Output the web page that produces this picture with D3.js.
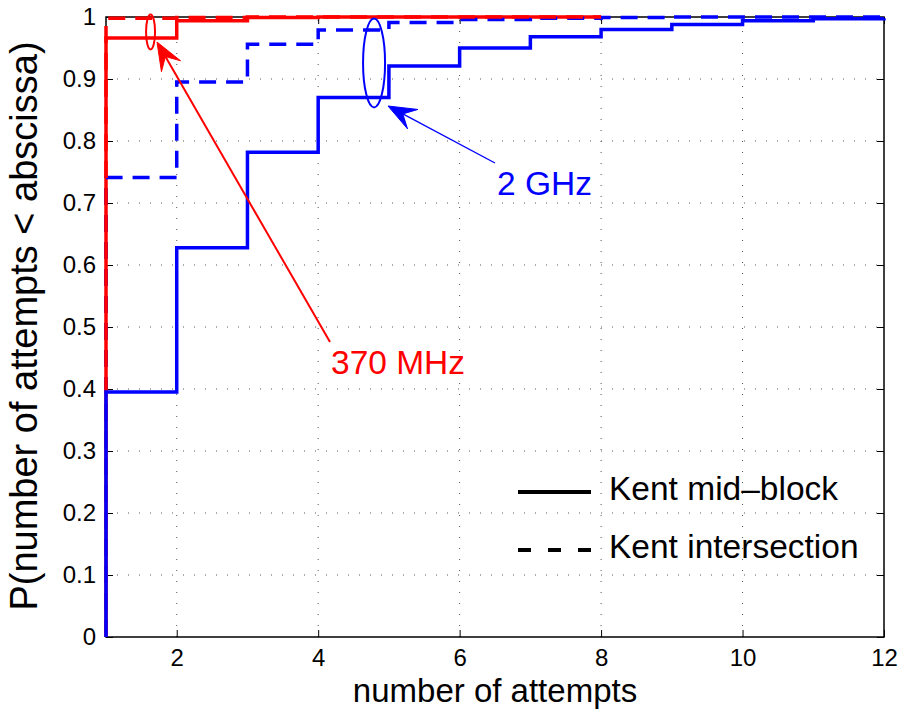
<!DOCTYPE html>
<html><head><meta charset="utf-8">
<script src="https://cdn.jsdelivr.net/npm/d3@7"></script>
<style>
html,body{margin:0;padding:0;background:#fff;}
text{font-family:"Liberation Sans",Arial,Helvetica,sans-serif;}
</style></head>
<body>
<svg id="chart" width="900" height="717"></svg>
<script>
// ---- data ----
const attempts      = [1,2,3,4,5,6,7,8,9,10,11,12];
const blueMidBlock  = [0.395,0.628,0.782,0.870,0.921,0.950,0.968,0.980,0.988,0.994,0.997,0.998];
const blueIntersect = [0.741,0.895,0.956,0.979,0.991,0.996,0.998,0.999,1.0,1.0,1.0,1.0];
const redAttempts   = [1,2,3,4,5,6,7,8];
const redMidBlock   = [0.966,0.994,0.999,1.0,1.0,1.0,1.0,1.0];
const redIntersect  = [0.998,0.999,1.0,1.0,1.0,1.0,1.0,1.0];
const xTicks = [2,4,6,8,10,12];
const yTicks = [0,0.1,0.2,0.3,0.4,0.5,0.6,0.7,0.8,0.9,1];
const legendLabels = ["Kent mid\u2013block","Kent intersection"];
const annotations = [
  {label:"370 MHz", color:"#ff0000", ellipse:{x:1.63,y:0.976,rx:4.5,ry:17.5}, tip:[157,42], tail:[330,342], text:[331,374], lw:2},
  {label:"2 GHz",  color:"#0000ff", ellipse:{x:4.79,y:0.926,rx:11,ry:44.5}, tip:[388,106], tail:[495,163], text:[497,195], lw:1.4}
];

const svg = d3.select("#chart");
const L=106, R=884, T=17, B=637;
const x = d3.scaleLinear().domain([1,12]).range([L,R]);
const y = d3.scaleLinear().domain([0,1]).range([B,T]);

// grid
const grid = svg.append("g");
xTicks.filter(v=>v<12).forEach(v=>{
  grid.append("line").attr("x1",x(v)).attr("x2",x(v)).attr("y1",B).attr("y2",T)
   .attr("stroke","#555").attr("stroke-width",1).attr("stroke-dasharray","1,10");
});
yTicks.filter(v=>v>0&&v<1).forEach(v=>{
  grid.append("line").attr("x1",L).attr("x2",R).attr("y1",y(v)).attr("y2",y(v))
   .attr("stroke","#555").attr("stroke-width",1).attr("stroke-dasharray","1,10");
});

// axes
const xAxis = d3.axisBottom(x).tickValues(xTicks).tickSize(-7).tickPadding(12).tickFormat(d3.format("d"));
svg.append("g").attr("transform",`translate(0,${B})`).call(xAxis);
const yAxis = d3.axisLeft(y).tickValues(yTicks).tickSize(-7).tickPadding(10).tickFormat(d=>d===0?"0":d===1?"1":d3.format(".1f")(d));
svg.append("g").attr("transform",`translate(${L},0)`).call(yAxis);
const yAxisR = d3.axisRight(y).tickValues(yTicks).tickSize(-7).tickFormat("");
svg.append("g").attr("transform",`translate(${R},0)`).call(yAxisR);
const xAxisT = d3.axisTop(x).tickValues(xTicks).tickSize(-7).tickFormat("");
svg.append("g").attr("transform",`translate(0,${T})`).call(xAxisT);
svg.selectAll(".domain").remove();
svg.selectAll(".tick line").attr("stroke","#000").attr("stroke-width",1);
svg.selectAll(".tick text").attr("font-size",24).attr("fill","#000").attr("font-family","Liberation Sans, Arial, sans-serif");
svg.append("rect").attr("x",L).attr("y",T).attr("width",R-L).attr("height",B-T)
  .attr("fill","none").attr("stroke","#000").attr("stroke-width",1.5);

// series
function stepData(xs, ys){
  const pts=[[xs[0],0]];
  xs.forEach((v,i)=>pts.push([v,ys[i]]));
  return pts;
}
const line = d3.line().x(d=>x(d[0])).y(d=>y(d[1])).curve(d3.curveStepAfter);
const series = [
  {xs:redAttempts, ys:redMidBlock, color:"#ff0000", dash:null},
  {xs:attempts, ys:blueIntersect, color:"#0000ff", dash:"17,10"},
  {xs:redAttempts, ys:redIntersect, color:"#ff0000", dash:"17,10"},
  {xs:attempts, ys:blueMidBlock, color:"#0000ff", dash:null}
];
series.forEach(s=>{
  svg.append("path").datum(stepData(s.xs,s.ys)).attr("d",line)
    .attr("fill","none").attr("stroke",s.color).attr("stroke-width",3.5)
    .attr("stroke-dasharray",s.dash).attr("stroke-linejoin","miter");
});

// annotations
annotations.forEach(a=>{
  svg.append("ellipse").attr("cx",x(a.ellipse.x)).attr("cy",y(a.ellipse.y))
    .attr("rx",a.ellipse.rx).attr("ry",a.ellipse.ry)
    .attr("fill","none").attr("stroke",a.color).attr("stroke-width",2);
  const [tx,ty]=a.tip, [sx,sy]=a.tail;
  const ang=Math.atan2(sy-ty,sx-tx);
  const hl=28, hw=11;
  const bx=tx+hl*Math.cos(ang), by=ty+hl*Math.sin(ang);
  svg.append("line").attr("x1",sx).attr("y1",sy).attr("x2",tx+hl*0.6*Math.cos(ang)).attr("y2",ty+hl*0.6*Math.sin(ang))
    .attr("stroke",a.color).attr("stroke-width",a.lw);
  const px=-Math.sin(ang), py=Math.cos(ang);
  svg.append("path").attr("d",`M${tx},${ty}L${bx+hw*px},${by+hw*py}L${tx+hl*0.6*Math.cos(ang)},${ty+hl*0.6*Math.sin(ang)}L${bx-hw*px},${by-hw*py}Z`)
    .attr("fill",a.color).attr("stroke",a.color).attr("stroke-width",1);
  svg.append("text").attr("x",a.text[0]).attr("y",a.text[1]).attr("font-size",33.5)
    .attr("fill",a.color).text(a.label);
});

// legend
const leg = svg.append("g");
legendLabels.forEach((lab,i)=>{
  const ly = 492 + i*58;
  leg.append("line").attr("x1",518).attr("x2",591).attr("y1",ly).attr("y2",ly)
    .attr("stroke","#000").attr("stroke-width",4).attr("stroke-dasharray",i===1?"13,17":null);
  leg.append("text").attr("x",609).attr("y",ly+8).attr("font-size",33.5)
    .attr("fill","#000").text(lab);
});

// axis labels
svg.append("text").attr("x",(L+R)/2).attr("y",702).attr("text-anchor","middle")
  .attr("font-size",33).attr("fill","#000").text("number of attempts");
svg.append("text").attr("transform",`translate(37,326) rotate(-90)`).attr("text-anchor","middle")
  .attr("font-size",38).attr("fill","#000").text("P(number of attempts < abscissa)");
</script>
</body></html>
